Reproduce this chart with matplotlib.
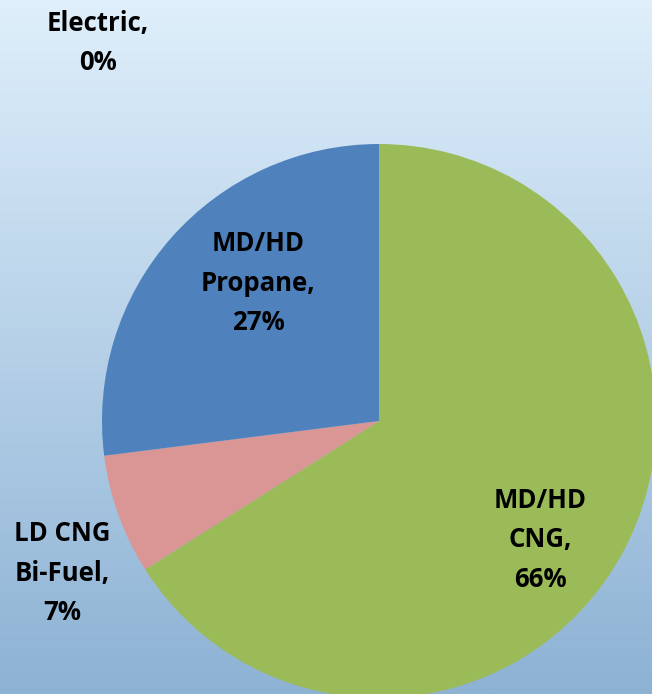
import matplotlib
matplotlib.use("Agg")
import matplotlib.pyplot as plt
import numpy as np
from matplotlib.colors import LinearSegmentedColormap

categories = ["MD/HD\nCNG", "LD CNG\nBi-Fuel", "MD/HD\nPropane", "Electric"]
values = [66, 7, 27, 0]
colors = ["#9BBB59", "#D99694", "#4F81BD", "#8064A2"]
label_pos = [(540, 154), (62, 121), (258, 411), (98, 651)]

W, H = 652, 694
fig = plt.figure(figsize=(W/100, H/100), dpi=100)
ax = fig.add_axes([0, 0, 1, 1])
ax.set_xlim(0, W)
ax.set_ylim(0, H)
ax.axis("off")

cmap = LinearSegmentedColormap.from_list("bg", ["#8DB2D4", "#DFEFFB"])
grad = np.linspace(0, 1, 256).reshape(-1, 1)
ax.imshow(grad, extent=[0, W, 0, H], origin="lower", cmap=cmap, aspect="auto", zorder=0)

wedges, _ = ax.pie(values, colors=colors, startangle=90, counterclock=False,
                   center=(379, 273), radius=277, wedgeprops=dict(linewidth=0),
                   frame=True)
for w in wedges:
    w.set_zorder(1)
ax.set_xlim(0, W)
ax.set_ylim(0, H)
ax.set_aspect("auto")
ax.axis("off")

for cat, v, (x, y) in zip(categories, values, label_pos):
    ax.text(x, y, f"{cat},\n{v}%", ha="center", va="center", fontsize=18.5,
            fontweight="bold", family="Open Sans", linespacing=1.6, zorder=3)

fig.savefig("out.png", dpi=100)
